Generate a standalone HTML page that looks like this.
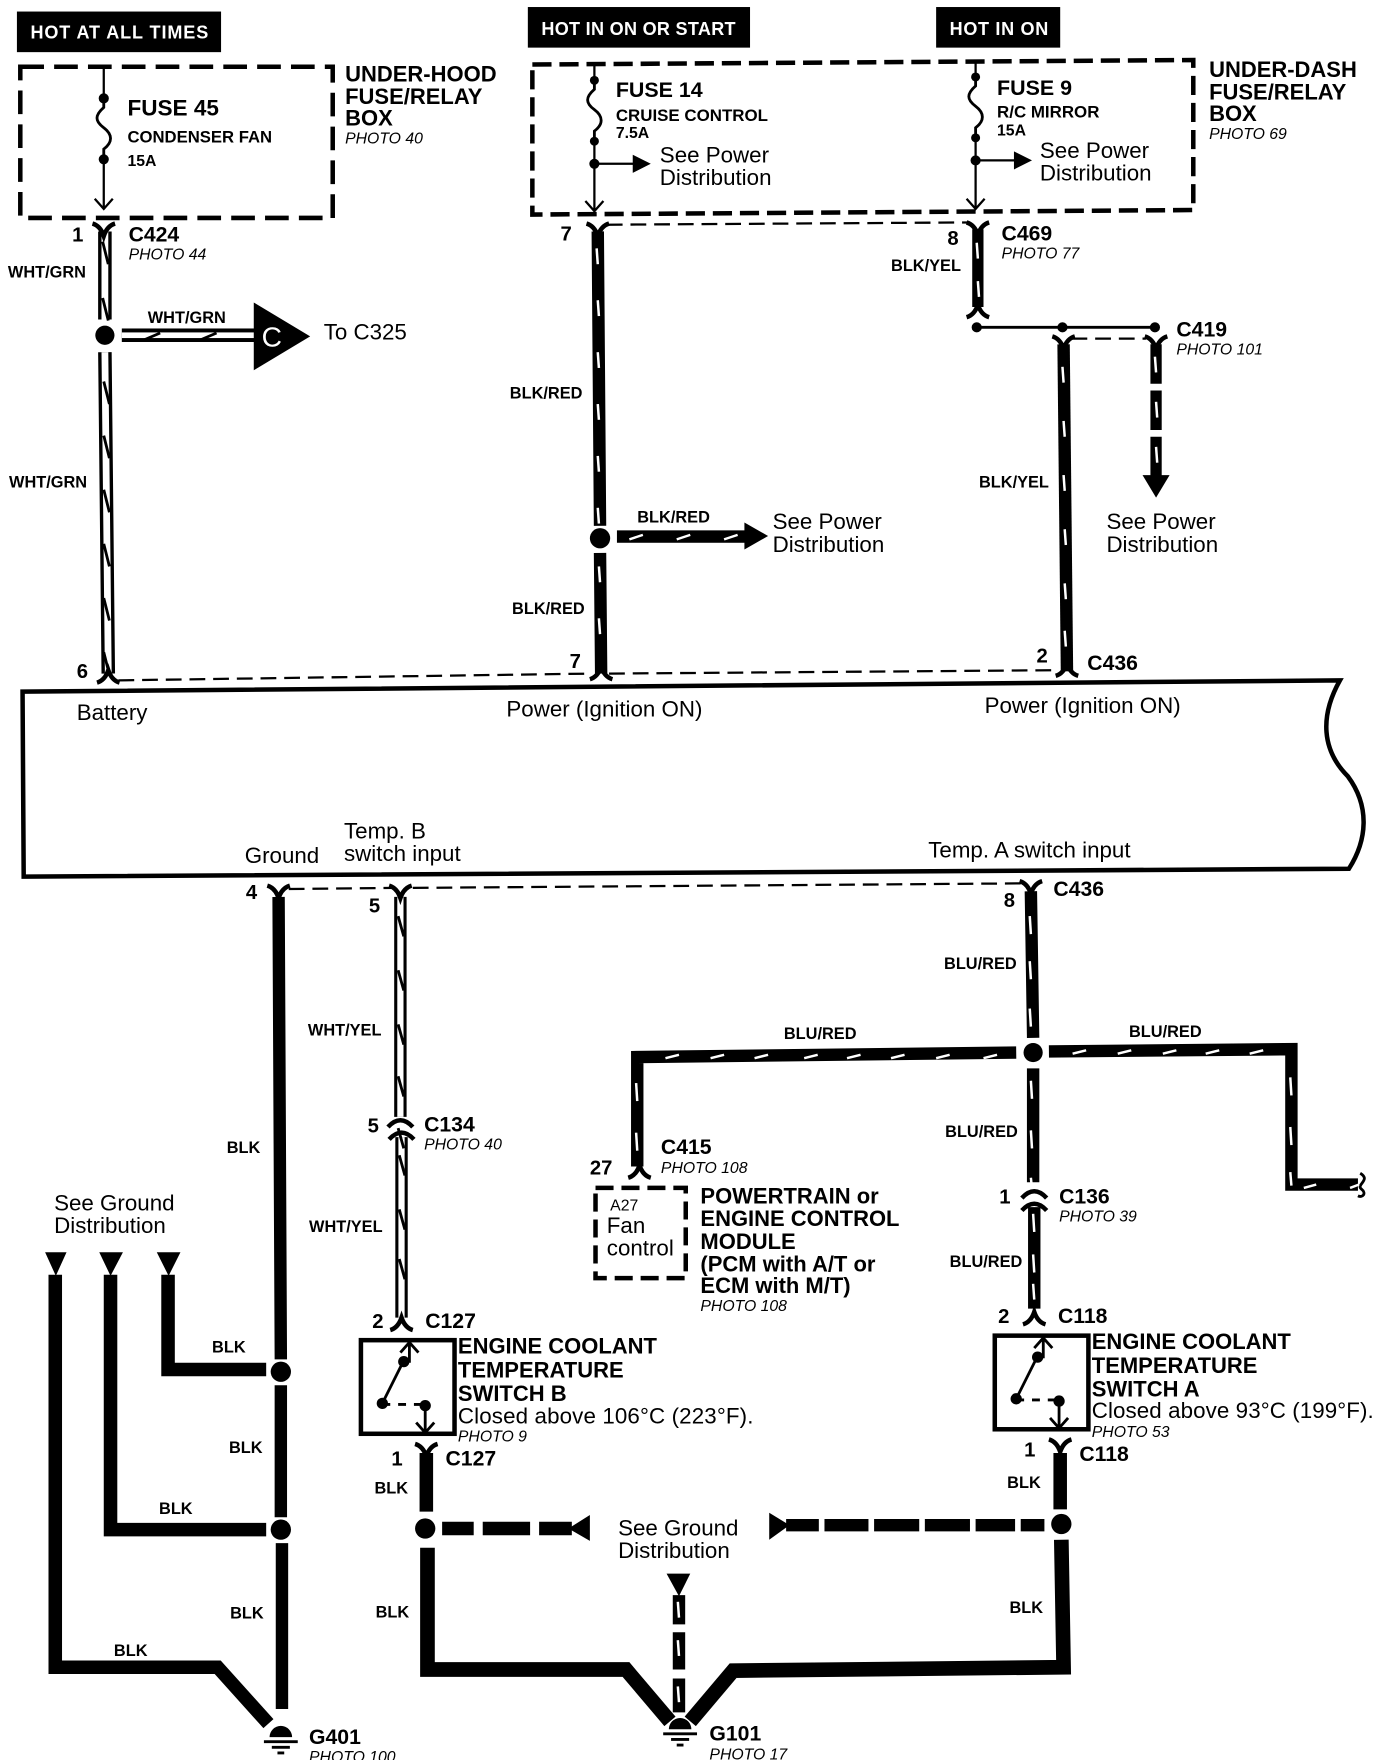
<!DOCTYPE html>
<html><head><meta charset="utf-8"><style>
html,body{margin:0;padding:0;background:#fff}
svg{display:block;width:1376px;height:1760px}
text{font-family:"Liberation Sans",sans-serif;fill:#000}
.b{font-weight:bold}.i{font-style:italic;font-size:14px}
.w{font-weight:bold;font-size:14.5px}.n{font-weight:bold;font-size:18px}
.t{font-size:19.8px}.h{font-weight:bold;font-size:19.5px}
.c{font-weight:bold;font-size:18.8px}
.hot{fill:#fff;font-weight:bold;font-size:16px;letter-spacing:.8px}
.s{fill:none;stroke:#000}
.wd{fill:none;stroke:#fff;stroke-width:2.2}
</style></head><body>
<svg viewBox="0 0 1220 1560" xmlns="http://www.w3.org/2000/svg">
<defs>
<path id="yt" d="M-10 -5Q-3 -3 0 6Q3 -3 10 -5" fill="none" stroke="#000" stroke-width="4"/>
<path id="yb" d="M-10 5Q-3 3 0 -6Q3 3 10 5" fill="none" stroke="#000" stroke-width="4"/>
<path id="arc" d="M-11 5Q0 -7 11 5" fill="none" stroke="#000" stroke-width="4"/>
<path id="fuse" d="M0 0V8C-8 15 -8 20 0 26C8 32 8 39 0 45V54" fill="none" stroke="#000" stroke-width="2.5"/>
<g id="gnd"><path d="M-10 0A10 10 0 0 1 10 0Z"/><path d="M-15 4H15M-8 9H8M-3 14H3" stroke="#000" stroke-width="2.5"/></g>
<g id="sw"><rect x="0" y="0" width="83" height="83" fill="#fff" stroke="#000" stroke-width="4"/>
<path d="M43 2V20M35 11L43 2L51 11M37 20L19 56" class="s" stroke-width="2.5"/>
<path d="M19 57H58" class="s" stroke-width="2.5" stroke-dasharray="7 7"/>
<path d="M57 58V82M49 73L57 82L65 73" class="s" stroke-width="2.5"/>
<circle cx="38" cy="19" r="5"/><circle cx="19" cy="56" r="5"/><circle cx="57" cy="58" r="5"/></g>
</defs>

<!-- hot bars -->
<rect x="15" y="10" width="181" height="36"/><text x="27" y="34" class="hot">HOT AT ALL TIMES</text>
<rect x="468" y="6" width="197" height="36"/><text x="480" y="31" class="hot" style="letter-spacing:.27px">HOT IN ON OR START</text>
<rect x="830" y="6" width="110" height="36"/><text x="842" y="31" class="hot" style="letter-spacing:.6px">HOT IN ON</text>

<!-- fuse boxes -->
<rect x="18" y="59" width="277" height="134" class="s" stroke-width="4" stroke-dasharray="21 9"/>
<path d="M472 57L1058 53V186L472 190Z" class="s" stroke-width="4" stroke-dasharray="17 7"/>

<!-- fuse 45 -->
<path d="M92 58V87M92 141V185M84 176L92 185L100 176" class="s" stroke-width="2"/>
<use href="#fuse" x="92" y="87"/><circle cx="92" cy="87" r="4.5"/><circle cx="92" cy="141" r="4.5"/>
<!-- fuse 14 -->
<path d="M527 57V71M527 125V187M519 178L527 187L535 178M527 145H564" class="s" stroke-width="2"/>
<use href="#fuse" x="527" y="71"/><circle cx="527" cy="71" r="4"/><circle cx="527" cy="125" r="4"/><circle cx="527" cy="145" r="4.5"/>
<path d="M561 137L577 145L561 153Z"/>
<!-- fuse 9 -->
<path d="M865 55V68M865 122V185M857 176L865 185L873 176M865 142H902" class="s" stroke-width="2"/>
<use href="#fuse" x="865" y="68"/><circle cx="865" cy="68" r="4"/><circle cx="865" cy="122" r="4"/><circle cx="865" cy="142" r="4.5"/>
<path d="M899 134L915 142L899 150Z"/>

<text x="113" y="102" class="b" font-size="20">FUSE 45</text>
<text x="113" y="126" class="b" font-size="14.8">CONDENSER FAN</text>
<text x="113" y="147" class="b" font-size="14">15A</text>
<text x="306" y="72" class="h">UNDER-HOOD</text><text x="306" y="92" class="h">FUSE/RELAY</text><text x="306" y="111" class="h">BOX</text><text x="306" y="127" class="i">PHOTO 40</text>
<text x="546" y="86" class="b" font-size="19">FUSE 14</text>
<text x="546" y="107" class="b" font-size="15">CRUISE CONTROL</text>
<text x="546" y="122" class="b" font-size="14">7.5A</text>
<text x="585" y="144" class="t">See Power</text><text x="585" y="164" class="t">Distribution</text>
<text x="884" y="84" class="b" font-size="19">FUSE 9</text>
<text x="884" y="104" class="b" font-size="15">R/C MIRROR</text>
<text x="884" y="120" class="b" font-size="14">15A</text>
<text x="922" y="140" class="t">See Power</text><text x="922" y="160" class="t">Distribution</text>
<text x="1072" y="68" class="h">UNDER-DASH</text><text x="1072" y="88" class="h">FUSE/RELAY</text><text x="1072" y="107" class="h">BOX</text><text x="1072" y="123" class="i">PHOTO 69</text>

<!-- thin connector dashes -->
<path d="M538 199L858 197" class="s" stroke-width="2" stroke-dasharray="14 7"/>
<path d="M950 300H1016" class="s" stroke-width="2" stroke-dasharray="14 7"/>
<path d="M105 603L524 597M540 597L936 594" class="s" stroke-width="2" stroke-dasharray="14 7"/>
<path d="M256 788L350 787M366 787L906 783" class="s" stroke-width="2" stroke-dasharray="14 7"/>

<!-- WHT/GRN vertical -->
<path d="M93 205V283M93 312L96 597" class="s" stroke-width="12"/>
<path d="M93 205V283M93 312L96 597" class="s" style="stroke:#fff" stroke-width="6"/>
<path d="M91 214l5 20m-5 30l5 20M92 338l5 20m-5 28l5 20m-5 28l5 20m-5 28l5 20m-5 28l5 20m-5 28l5 20" class="s" stroke-width="2.5"/>
<use href="#yt" x="92" y="203"/><use href="#yb" x="96" y="600"/>
<circle cx="93" cy="297" r="8.5"/>
<rect x="108" y="291" width="120" height="12"/><rect x="108" y="294.500" width="120" height="5" fill="#fff"/>
<path d="M128 301l14 -6m36 6l14 -6m34 6l10 -5" class="s" stroke-width="2.5"/>
<path d="M225 268L275 298L225 328Z"/>
<text x="232" y="307" font-size="25" style="fill:#fff">C</text>

<text x="64" y="214" class="n">1</text><text x="114" y="214" class="c">C424</text><text x="114" y="230" class="i">PHOTO 44</text>
<text x="7" y="246" class="w">WHT/GRN</text><text x="131" y="286" class="w">WHT/GRN</text>
<text x="287" y="301" class="t">To C325</text><text x="8" y="432" class="w">WHT/GRN</text>
<text x="68" y="601" class="n">6</text>

<!-- BLK/RED -->
<path d="M530 205L532 466M532 490L533 597" class="s" stroke-width="11"/>
<path d="M529 220l1 14m0 32l1 14m-1 32l1 14m-1 32l1 14m-1 32l1 14m-1 32l1 14M531 502l1 14m-1 32l1 14" class="wd"/>
<use href="#yt" x="530" y="203"/><use href="#yb" x="533" y="597"/>
<circle cx="532" cy="477" r="9"/>
<rect x="547" y="470" width="115" height="11"/><path d="M660 463L681 475L660 487Z"/>
<path d="M558 478l12 -4m30 4l12 -4m30 4l12 -4" class="wd"/>
<text x="497" y="213" class="n">7</text><text x="505" y="592" class="n">7</text>
<text x="452" y="353" class="w">BLK/RED</text><text x="454" y="544" class="w">BLK/RED</text><text x="565" y="463" class="w">BLK/RED</text>
<text x="685" y="469" class="t">See Power</text><text x="685" y="489" class="t">Distribution</text>

<!-- BLK/YEL -->
<path d="M867 203V272" class="s" stroke-width="10"/>
<path d="M866 215l1 14m0 20l1 14" class="wd"/>
<use href="#yt" x="867" y="202"/><use href="#yb" x="867" y="276"/>
<path d="M866 290H1024" class="s" stroke-width="2.5"/><circle cx="866" cy="290" r="4.5"/><circle cx="942" cy="290" r="4.5"/><circle cx="1024" cy="290" r="4.5"/>
<path d="M943 305L946 595" class="s" stroke-width="11"/>
<path d="M942 325l1 14m0 34l1 14m-1 34l1 14m0 34l1 14m-1 34l1 14m-1 28l1 14" class="wd"/>
<use href="#yt" x="943" y="303"/><use href="#yb" x="946" y="594"/>
<use href="#yt" x="1025" y="303"/>
<path d="M1025 305V340M1025 346V381M1025 387V422" class="s" stroke-width="10"/>
<path d="M1024 316l1 14m0 26l1 14m-1 26l1 14" class="wd"/><path d="M1013 421H1037L1025 441Z"/>
<text x="840" y="217" class="n">8</text><text x="888" y="213" class="c">C469</text><text x="888" y="229" class="i">PHOTO 77</text>
<text x="790" y="240" class="w">BLK/YEL</text><text x="868" y="432" class="w">BLK/YEL</text>
<text x="1043" y="298" class="c">C419</text><text x="1043" y="314" class="i">PHOTO 101</text>
<text x="981" y="469" class="t">See Power</text><text x="981" y="489" class="t">Distribution</text>
<text x="919" y="587" class="n">2</text><text x="964" y="594" class="c">C436</text>

<!-- main module -->
<path d="M1188 603L20 613L21 777L1196 770C1212 745 1215 715 1195 688C1172 665 1170 635 1188 603Z" class="s" stroke-width="4"/>
<text x="68" y="638" class="t">Battery</text><text x="449" y="635" class="t">Power (Ignition ON)</text><text x="873" y="632" class="t">Power (Ignition ON)</text>
<text x="305" y="743" class="t">Temp. B</text><text x="305" y="763" class="t">switch input</text><text x="217" y="765" class="t">Ground</text><text x="823" y="760" class="t">Temp. A switch input</text>

<!-- Ground left -->
<text x="218" y="797" class="n">4</text><use href="#yt" x="247" y="790"/>
<path d="M247 795L249 1205M249 1228V1345M250 1368V1515" class="s" stroke-width="11"/>
<circle cx="249" cy="1216" r="9"/><circle cx="249" cy="1356" r="9"/>
<path d="M40 1110H59L49.500 1131ZM88 1110H109L98 1131ZM139 1110H160L149.500 1131Z"/>
<path d="M49 1130V1478H193L238 1528" class="s" stroke-width="12"/>
<path d="M98 1130V1356H236" class="s" stroke-width="12"/>
<path d="M149 1130V1214H236" class="s" stroke-width="12"/>
<use href="#gnd" x="249" y="1540"/>
<text x="201" y="1022" class="w">BLK</text><text x="188" y="1199" class="w">BLK</text><text x="203" y="1288" class="w">BLK</text><text x="141" y="1342" class="w">BLK</text><text x="204" y="1435" class="w">BLK</text><text x="101" y="1468" class="w">BLK</text>
<text x="48" y="1073" class="t">See Ground</text><text x="48" y="1093" class="t">Distribution</text>
<text x="274" y="1546" class="c">G401</text><text x="274" y="1562" class="i">PHOTO 100</text>

<!-- WHT/YEL -->
<path d="M355 795V990M356 1008V1168" class="s" stroke-width="11"/>
<path d="M355 795V990M356 1008V1168" class="s" style="stroke:#fff" stroke-width="5.500"/>
<path d="M353 812l5 18m-5 30l5 18m-5 30l5 18m-5 28l5 18m-5 28l5 18M354 1024l5 18m-5 30l5 18m-5 26l5 18" class="s" stroke-width="2.5"/>
<use href="#yt" x="355" y="790"/><use href="#arc" x="355" y="994"/><use href="#arc" x="356" y="1005"/><use href="#yb" x="356" y="1174" />
<text x="327" y="809" class="n">5</text><text x="326" y="1004" class="n">5</text><text x="376" y="1003" class="c">C134</text><text x="376" y="1019" class="i">PHOTO 40</text>
<text x="273" y="918" class="w">WHT/YEL</text><text x="274" y="1092" class="w">WHT/YEL</text>
<text x="330" y="1177" class="n">2</text><text x="377" y="1177" class="c">C127</text>

<!-- Switch B -->
<use href="#sw" x="320" y="1188"/>
<text x="406" y="1200" class="h">ENGINE COOLANT</text><text x="406" y="1221" class="h">TEMPERATURE</text><text x="406" y="1242" class="h">SWITCH B</text>
<text x="406" y="1262" class="t" textLength="262">Closed above 106°C (223°F).</text><text x="406" y="1278" class="i">PHOTO 9</text>
<use href="#yt" x="378" y="1285"/><text x="347" y="1299" class="n">1</text><text x="395" y="1299" class="c">C127</text>
<text x="332" y="1324" class="w">BLK</text><text x="333" y="1434" class="w">BLK</text>
<path d="M378 1288V1340" class="s" stroke-width="12"/><circle cx="377" cy="1355" r="9"/>
<path d="M379 1372V1480H555L594 1526" class="s" stroke-width="13"/>
<path d="M612 1526L650 1481L943 1478L941 1365" class="s" stroke-width="13"/>
<path d="M940 1288V1338" class="s" stroke-width="12"/><circle cx="941" cy="1351" r="9"/>
<path d="M392 1355H420M428 1355H470M478 1355H507" class="s" stroke-width="12"/><path d="M523 1343V1366L504 1355Z"/>
<path d="M697 1352H726M731 1352H770M775 1352H815M820 1352H860M865 1352H900M905 1352H926" class="s" stroke-width="11"/><path d="M682 1341V1365L700 1352Z"/>
<path d="M591 1395H612L602 1415Z"/>
<path d="M602 1414V1440M602 1447V1480M602 1488V1518" class="s" stroke-width="11"/>
<path d="M601 1420l1 14m-1 20l1 14m-1 27l1 14" class="wd"/>
<use href="#gnd" x="603" y="1533"/>
<text x="548" y="1361" class="t">See Ground</text><text x="548" y="1381" class="t">Distribution</text>
<text x="629" y="1543" class="c">G101</text><text x="629" y="1560" class="i">PHOTO 17</text>

<!-- BLU/RED -->
<use href="#yt" x="914" y="786"/><text x="890" y="804" class="n">8</text><text x="934" y="794" class="c">C436</text>
<path d="M914 790L916 920M916 947V1048M917 1070V1160" class="s" stroke-width="11"/>
<path d="M913 812l1 16m-1 24l1 16m-1 26l1 16M914 958l1 16m-1 28l1 16m-1 26l1 10M916 1076l1 16m-1 20l1 16m-1 10l1 14" class="wd"/>
<circle cx="916" cy="933" r="8.5"/>
<path d="M901 933L565 937V1034" class="s" stroke-width="11"/>
<path d="M930 932L1145 930V1050H1204" class="s" stroke-width="11"/>
<path d="M1206 1040C1216 1046 1202 1050 1207 1054C1212 1058 1208 1062 1204 1060" class="s" stroke-width="2.5"/>
<path d="M590 938l12 -3m28 3l12 -3m27 3l12 -3m32 3l12 -3m26 3l12 -3m27 3l12 -3m28 3l12 -3m30 3l12 -3M951 934l12 -3m28 3l12 -3m28 3l12 -3m26 3l12 -3m27 3l12 -3" class="wd"/>
<path d="M564 960l1 16m-1 28l1 16M1144 955l1 16m-1 28l1 16m-1 24l1 12M1156 1053l11 -3m30 3l8 -3" class="wd"/>
<use href="#yb" x="567" y="1039"/>
<use href="#arc" x="917" y="1057"/><use href="#arc" x="917" y="1068"/><use href="#yb" x="917" y="1169"/>
<text x="837" y="859" class="w">BLU/RED</text><text x="695" y="921" class="w">BLU/RED</text><text x="1001" y="919" class="w">BLU/RED</text><text x="838" y="1008" class="w">BLU/RED</text><text x="842" y="1123" class="w">BLU/RED</text>
<text x="523" y="1041" class="n">27</text><text x="586" y="1023" class="c">C415</text><text x="586" y="1040" class="i">PHOTO 108</text>
<text x="886" y="1067" class="n">1</text><text x="939" y="1067" class="c">C136</text><text x="939" y="1083" class="i">PHOTO 39</text>
<text x="885" y="1173" class="n">2</text><text x="938" y="1173" class="c">C118</text>

<!-- Module -->
<rect x="528" y="1053" width="80" height="80" class="s" stroke-width="4" stroke-dasharray="16 7"/>
<text x="541" y="1073" font-size="14">A27</text><text x="538" y="1093" class="t">Fan</text><text x="538" y="1113" class="t">control</text>
<text x="621" y="1067" class="h">POWERTRAIN or</text><text x="621" y="1087" class="h">ENGINE CONTROL</text><text x="621" y="1107" class="h">MODULE</text><text x="621" y="1127" class="h">(PCM with A/T or</text><text x="621" y="1146" class="h">ECM with M/T)</text><text x="621" y="1162" class="i">PHOTO 108</text>

<!-- Switch A -->
<use href="#sw" x="882" y="1184"/>
<text x="968" y="1196" class="h">ENGINE COOLANT</text><text x="968" y="1217" class="h">TEMPERATURE</text><text x="968" y="1238" class="h">SWITCH A</text>
<text x="968" y="1257" class="t" textLength="250">Closed above 93°C (199°F).</text><text x="968" y="1274" class="i">PHOTO 53</text>
<use href="#yt" x="940" y="1281"/><text x="908" y="1291" class="n">1</text><text x="957" y="1295" class="c">C118</text>
<text x="893" y="1319" class="w">BLK</text><text x="895" y="1430" class="w">BLK</text>
</svg>
</body></html>
